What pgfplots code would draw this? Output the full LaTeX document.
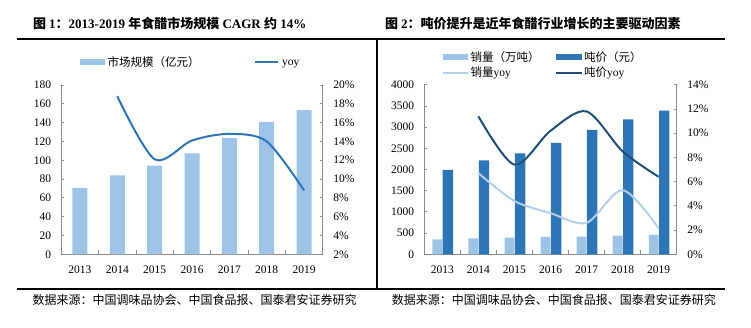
\documentclass[border=0pt]{standalone}
\usepackage{fontspec}
\setmainfont{Liberation Serif}
\newfontfamily\cjk{Noto Sans CJK SC}
\usepackage{pgfplots}
\pgfplotsset{compat=1.18}
\definecolor{barlight}{HTML}{9DC3E6}
\definecolor{bardark}{HTML}{2E75B6}
\definecolor{yoyblue}{HTML}{2E75B6}
\definecolor{linedark}{HTML}{1F4E79}
\definecolor{linelight}{HTML}{B4CDEA}
\definecolor{axgray}{HTML}{8C8C8C}
\pgfplotsset{
  base/.style={scale only axis, anchor=south west, xmin=-0.5, xmax=6.5,
    axis line style={axgray, line width=0.9pt}, tick style={axgray, line width=0.9pt},
    tick align=inside, major tick length=3pt, minor tick length=4pt,
    ticklabel style={font=\fontsize{11.5}{12}\selectfont},
    /pgf/number format/assume math mode=true,
    /pgf/number format/1000 sep={}, scaled y ticks=false,
    clip=false},
  leftax/.style={base, axis x line*=bottom, axis y line*=left,
    xtick={0,...,6}, xticklabels={2013,2014,2015,2016,2017,2018,2019},
    minor x tick num=1, major x tick style={draw=none},
    xticklabel style={inner sep=0pt, anchor=north, yshift=-11pt},
    yticklabel style={inner sep=0pt, anchor=east, xshift=-10pt}},
  rightax/.style={base, axis x line=none, axis y line*=right,
    yticklabel={\pgfmathprintnumber{\tick}\%},
    yticklabel style={inner sep=0pt, anchor=west, xshift=10.5pt}},
}
\begin{document}
\begin{tikzpicture}[x=1pt,y=1pt]
\useasboundingbox (0,0) rectangle (751,328);
% rules
\draw[line width=1.1pt] (17,289) -- (725,289);
\draw[line width=1.1pt] (17,39) -- (725,39);
\draw[line width=1.1pt] (377,289) -- (377,39);
% titles
\node[anchor=west, inner sep=0pt, font=\fontsize{13}{14}\selectfont] at (33,304.7)
  {{\cjk\bfseries 图 }\textbf{1}{\cjk\bfseries ：}\textbf{2013-2019 }{\cjk\bfseries 年食醋市场规模}\textbf{ CAGR }{\cjk\bfseries 约}\textbf{ 14\%}};
\node[anchor=west, inner sep=0pt, font=\fontsize{13}{14}\selectfont] at (385,304.7)
  {{\cjk\bfseries 图 }\textbf{2}{\cjk\bfseries ：吨价提升是近年食醋行业增长的主要驱动因素}};
% footers
\node[anchor=west, inner sep=0pt, font=\fontsize{12}{13}\selectfont] at (32.3,28)
  {\cjk 数据来源：中国调味品协会、中国食品报、国泰君安证券研究};
\node[anchor=west, inner sep=0pt, font=\fontsize{12}{13}\selectfont] at (391.7,28)
  {\cjk 数据来源：中国调味品协会、中国食品报、国泰君安证券研究};
% left legend
\fill[barlight] (80,263.3) rectangle (105,269.3);
\node[anchor=west, inner sep=0pt, font=\fontsize{11.5}{12}\selectfont] at (107.5,266.3) {\cjk 市场规模（亿元）};
\draw[yoyblue, line width=2pt] (255,266.3) -- (278,266.3);
\node[anchor=base west, inner sep=0pt, font=\fontsize{11.5}{12}\selectfont] at (282,262.6) {yoy};
% right legend
\fill[barlight] (443.3,267.7) rectangle (468.3,273.7);
\node[anchor=west, inner sep=0pt, font=\fontsize{11.5}{12}\selectfont] at (470.5,270.7) {\cjk 销量（万吨）};
\fill[bardark] (556,267.7) rectangle (581.7,273.7);
\node[anchor=west, inner sep=0pt, font=\fontsize{11.5}{12}\selectfont] at (584,270.7) {\cjk 吨价（元）};
\draw[linelight, line width=2pt] (443.3,255.3) -- (468.3,255.3);
\node[anchor=base west, inner sep=0pt, font=\fontsize{11.5}{12}\selectfont] at (470.5,251.3) {{\cjk 销量}yoy};
\draw[linedark, line width=2pt] (556,255.3) -- (581.7,255.3);
\node[anchor=base west, inner sep=0pt, font=\fontsize{11.5}{12}\selectfont] at (584,251.3) {{\cjk 吨价}yoy};

% ---- left chart ----
\begin{axis}[leftax, at={(61.3pt,73.7pt)}, width=261.4pt, height=169.3pt,
  ymin=0, ymax=180, ytick={0,20,...,180}]
\addplot[ybar, bar width=15pt, fill=barlight, draw=none] coordinates
  {(0,70.5)(1,84)(2,94.3)(3,107.4)(4,123.4)(5,140.8)(6,153.2)};
\end{axis}
\begin{axis}[rightax, at={(61.3pt,73.7pt)}, width=261.4pt, height=169.3pt,
  ymin=2, ymax=20, ytick={2,4,...,20}]
\addplot[yoyblue, line width=2pt, smooth, tension=0.5] coordinates
  {(1,18.8)(2,12.1)(3,14.1)(4,14.8)(5,14.0)(6,8.8)};
\end{axis}

% ---- right chart ----
\begin{axis}[leftax, at={(424.3pt,73.7pt)}, width=252.4pt, height=169.5pt,
  ymin=0, ymax=4000, ytick={0,500,...,4000}]
\addplot[ybar, bar width=9.8pt, bar shift=-5pt, fill=barlight, draw=none] coordinates
  {(0,354)(1,377)(2,393)(3,409)(4,417)(5,440)(6,456)};
\addplot[ybar, bar width=10.4pt, bar shift=5.6pt, fill=bardark, draw=none] coordinates
  {(0,1990)(1,2218)(2,2383)(3,2627)(4,2934)(5,3186)(6,3390)};
\end{axis}
\begin{axis}[rightax, at={(424.3pt,73.7pt)}, width=252.4pt, height=169.5pt,
  ymin=0, ymax=14, ytick={0,2,...,14}]
\addplot[linelight, line width=2pt, smooth, tension=0.5] coordinates
  {(1,6.7)(2,4.4)(3,3.4)(4,2.6)(5,5.3)(6,2.15)};
\addplot[linedark, line width=2pt, smooth, tension=0.5] coordinates
  {(1,11.4)(2,7.4)(3,10.2)(4,11.8)(5,8.5)(6,6.4)};
\end{axis}
\end{tikzpicture}
\end{document}
